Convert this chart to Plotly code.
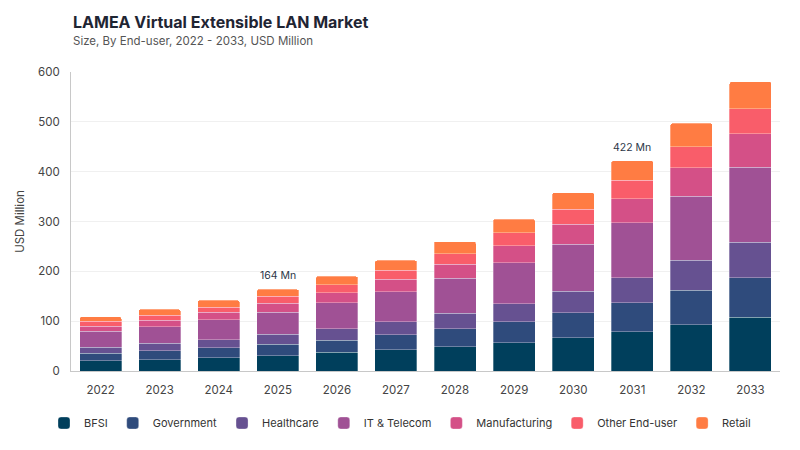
import plotly.graph_objects as go

years = ["2022", "2023", "2024", "2025", "2026", "2027", "2028", "2029", "2030", "2031", "2032", "2033"]
bfsi = [21, 22.7, 26.7, 31, 37.5, 42.7, 49, 57, 67, 79, 93, 108]
government = [15, 18, 19.5, 22.7, 24.7, 30.2, 36, 41.5, 49.5, 58, 69, 79.5]
healthcare = [12, 14.6, 16.6, 20, 22.8, 26, 31, 36.7, 43.6, 50.3, 60, 71]
it_telecom = [31.5, 33.6, 40, 44, 52, 60, 70, 82.4, 94.3, 110.4, 128.6, 150]
manufacturing = [10, 13.4, 14.8, 18.3, 20, 25, 28, 34, 40, 48, 57.4, 68]
other = [10, 10, 10.6, 14, 16, 18, 21.3, 25.5, 30.6, 37, 42, 50]
retail = [9, 11.4, 13.6, 14, 17, 20, 24, 27.4, 33, 39, 47, 54]

series_names = ["BFSI", "Government", "Healthcare", "IT & Telecom", "Manufacturing", "Other End-user", "Retail"]
series_values = [bfsi, government, healthcare, it_telecom, manufacturing, other, retail]
colors = ["#003f5c", "#2f4b7c", "#665191", "#a05195", "#d45087", "#f95d6a", "#ff7c43"]
label_years = ["2025", "2031"]

FONT = "Inter, Roboto, sans-serif"

fig = go.Figure()
for name, vals, col in zip(series_names, series_values, colors):
    fig.add_trace(go.Bar(
        x=years, y=vals, name=name,
        marker=dict(color=col, line=dict(color="rgba(255,255,255,0.5)", width=0.6)),
    ))

totals = [sum(v) for v in zip(*series_values)]
for yr in label_years:
    i = years.index(yr)
    fig.add_annotation(
        x=i, y=totals[i], text=f"{round(totals[i])} Mn",
        showarrow=False, yanchor="bottom", yshift=5,
        font=dict(family=FONT, size=10.5, color="#2d3748"),
    )

fig.add_annotation(
    xref="paper", yref="paper", x=0, y=1.167, xanchor="left", yanchor="middle",
    text="<b>LAMEA Virtual Extensible LAN Market</b>", showarrow=False,
    font=dict(family=FONT, size=16, color="#1f2533"),
)
fig.add_annotation(
    xref="paper", yref="paper", x=0, y=1.104, xanchor="left", yanchor="middle",
    text="Size, By End-user, 2022 - 2033, USD Million", showarrow=False,
    font=dict(family=FONT, size=11.5, color="#555555"),
)

fig.update_layout(
    width=800, height=450,
    barmode="stack", bargap=0.29, barcornerradius=2,
    paper_bgcolor="white", plot_bgcolor="white",
    margin=dict(l=71, r=20, t=72, b=79, autoexpand=False),
    font=dict(family=FONT, size=12, color="#444444"),
    showlegend=True,
    legend=dict(
        orientation="h", xref="container", yref="container",
        x=0.055, xanchor="left", y=0.06, yanchor="middle",
        font=dict(family=FONT, size=11, color="#333333"),
        traceorder="normal", itemwidth=30,
    ),
    xaxis=dict(
        type="category", showgrid=False, showline=True, linecolor="#c8c8c8", linewidth=1,
        ticks="", ticklabelstandoff=8, automargin=False,
        tickfont=dict(family=FONT, size=11.5, color="#444444"),
    ),
    yaxis=dict(
        range=[0, 600], dtick=100, showgrid=True, gridcolor="#f0f0f0",
        showline=True, linecolor="#c8c8c8", linewidth=1, zeroline=False,
        ticks="", ticklabelstandoff=8, automargin=False,
        tickfont=dict(family=FONT, size=11.5, color="#444444"),
        title=dict(text="USD Million", font=dict(family=FONT, size=11.5, color="#444444"), standoff=10),
    ),
)

fig.write_html("out.html", config={"displayModeBar": False},
               post_script="document.body.style.margin='0';")
